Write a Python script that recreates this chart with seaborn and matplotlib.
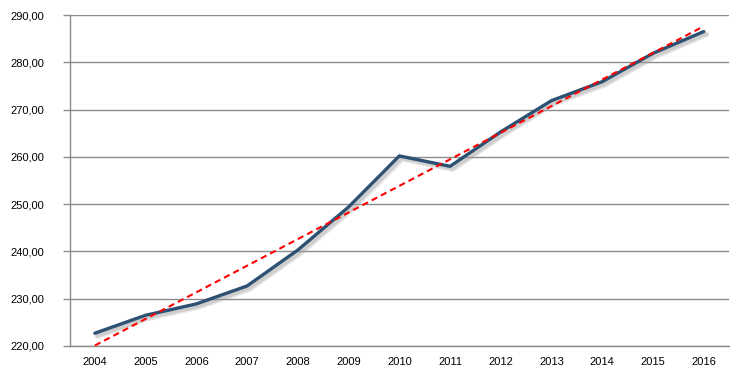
import numpy as np
import pandas as pd
import matplotlib
matplotlib.use('Agg')
import matplotlib.pyplot as plt
import matplotlib.patheffects as pe
from matplotlib.ticker import FuncFormatter, FixedLocator
import seaborn as sns

# ─── Data ─────────────────────────────────────────────────────────────────────
years  = ["2004", "2005", "2006", "2007", "2008", "2009", "2010",
          "2011", "2012", "2013", "2014", "2015", "2016"]
values = [222.7, 226.5, 228.9, 232.7, 240.3, 249.4, 260.2,
          258.0, 265.3, 271.9, 275.9, 281.9, 286.5]

df = pd.DataFrame({"pos": np.arange(len(years)), "value": values})

# linear trend line
coef = np.polyfit(df["pos"], df["value"], 1)
df["trend"] = np.polyval(coef, df["pos"])

# ─── Plot ─────────────────────────────────────────────────────────────────────
sns.set_style("white")
plt.rcParams['font.family'] = ['Liberation Sans', 'DejaVu Sans']

fig = plt.figure(figsize=(7.38, 3.8), dpi=100)
ax = fig.add_axes([0.0942, 0.0895, 0.8938, 0.871])

grid_c = "#8c8c8c"

# soft shadow: two layers
shadow = [pe.SimpleLineShadow(offset=(2.0, -2.0), shadow_color="#a0a0a0",
                              alpha=0.25, linewidth=4.2),
          pe.SimpleLineShadow(offset=(1.8, -1.8), shadow_color="#a0a0a0",
                              alpha=0.35, linewidth=2.6),
          pe.Normal()]
sns.lineplot(data=df, x="pos", y="value", ax=ax, color="#2c5173", linewidth=2.4,
             zorder=3, path_effects=shadow)
sns.lineplot(data=df, x="pos", y="trend", ax=ax, color="#ff0000", linewidth=1.5,
             linestyle=(0, (3, 2)), zorder=4)

ax.set_xlim(-0.5, len(years) - 0.5)
ax.set_ylim(220, 290)
ax.set_yticks(np.arange(220, 291, 10))
ax.yaxis.set_major_formatter(FuncFormatter(lambda v, _: f"{v:.2f}".replace(".", ",")))
ax.grid(axis="y", color=grid_c, linewidth=1)
ax.set_axisbelow(True)

ax.set_xticks(df["pos"])
ax.set_xticklabels(years)
ax.xaxis.set_minor_locator(FixedLocator(np.arange(-0.5, len(years), 1.0)))
ax.tick_params(axis="x", which="major", length=0, pad=8, labelsize=8, colors="black")
ax.tick_params(axis="x", which="minor", length=4, width=1, color=grid_c, direction="out")
ax.tick_params(axis="y", length=5, width=1, color=grid_c, direction="out", pad=13,
               labelsize=8, labelcolor="black", left=True)

ax.set_xlabel("")
ax.set_ylabel("")
for s in ["top", "right"]:
    ax.spines[s].set_visible(False)
for s in ["left", "bottom"]:
    ax.spines[s].set_color(grid_c)
    ax.spines[s].set_linewidth(1)

fig.savefig("out.png", dpi=100)
plt.close(fig)
